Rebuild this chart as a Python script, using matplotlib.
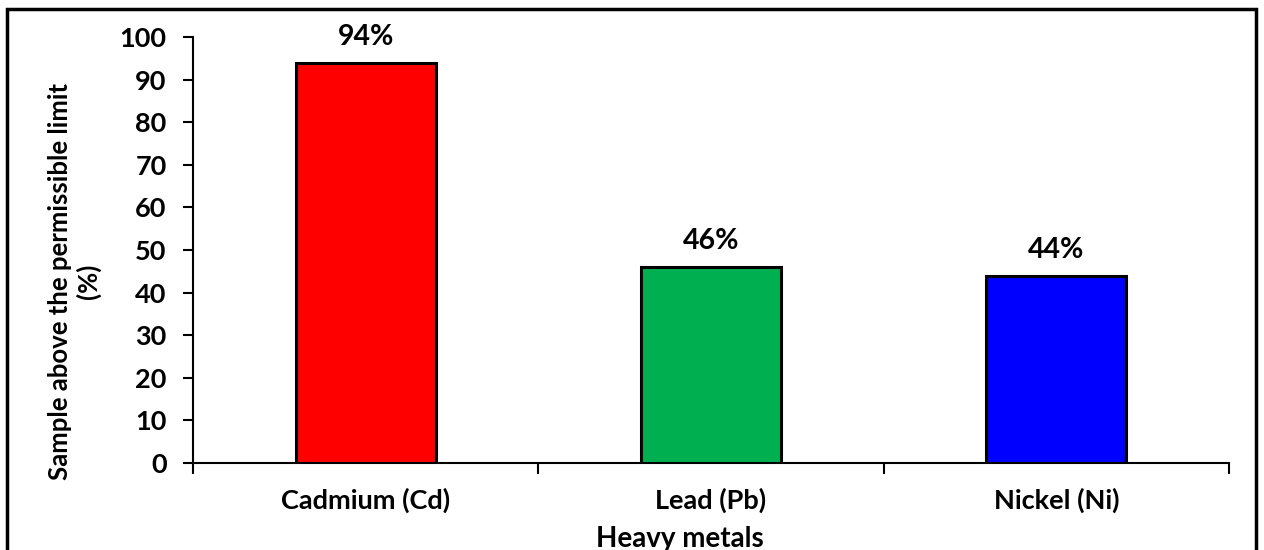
import numpy as np
import matplotlib.pyplot as plt
from matplotlib.patches import Rectangle

metals = ["Cadmium (Cd)", "Lead (Pb)", "Nickel (Ni)"]
above_limit = [94, 46, 44]
bar_colors = ["#ff0000", "#00b050", "#0000ff"]

plt.rcParams["font.family"] = ["Lato", "DejaVu Sans"]
plt.rcParams["font.weight"] = "bold"

fig = plt.figure(figsize=(12.64, 5.5), dpi=100, facecolor="w")
ax = fig.add_axes([0.1527, 0.1582, 0.8196, 0.7745])

x = np.arange(len(metals))
bars = ax.bar(x, above_limit, width=0.405, color=bar_colors,
              edgecolor="black", linewidth=2.2, zorder=3)

for b, v in zip(bars, above_limit):
    ax.text(b.get_x() + b.get_width() / 2, v + 3, f"{v}%",
            ha="center", va="bottom", fontsize=20.5, fontweight="bold")

ax.set_xlim(-0.5, len(metals) - 0.5)
ax.set_ylim(0, 100)
ax.set_yticks(np.arange(0, 101, 10))
ax.tick_params(axis="y", labelsize=19.5, length=7, width=1.5, direction="out", pad=12)

# category labels sit between the boundary ticks
ax.set_xticks(np.arange(-0.5, len(metals), 1.0))
ax.set_xticklabels([])
ax.set_xticks(x, minor=True)
ax.set_xticklabels(metals, minor=True, fontsize=19.5, fontweight="bold")
ax.tick_params(axis="x", which="major", length=8, width=1.5, direction="out")
ax.tick_params(axis="x", which="minor", length=0, pad=18)

for side in ["top", "right"]:
    ax.spines[side].set_visible(False)
for side in ["left", "bottom"]:
    ax.spines[side].set_linewidth(1.5)

ax.set_xlabel("Heavy metals", fontsize=20, fontweight="bold")
ax.xaxis.set_label_coords(0.47, -0.148)
ax.set_ylabel("Sample above the permissible limit\n(%)", fontsize=18.5,
              fontweight="bold", linespacing=1.2)
ax.yaxis.set_label_coords(-0.0886, 0.427)

# outer frame around the chart area
fig.patches.append(Rectangle((7 / 1264, -0.1), 1249 / 1264, 1.1 - 9 / 550,
                             transform=fig.transFigure, fill=False,
                             edgecolor="black", linewidth=2.5))

fig.savefig("out.png", dpi=100)
